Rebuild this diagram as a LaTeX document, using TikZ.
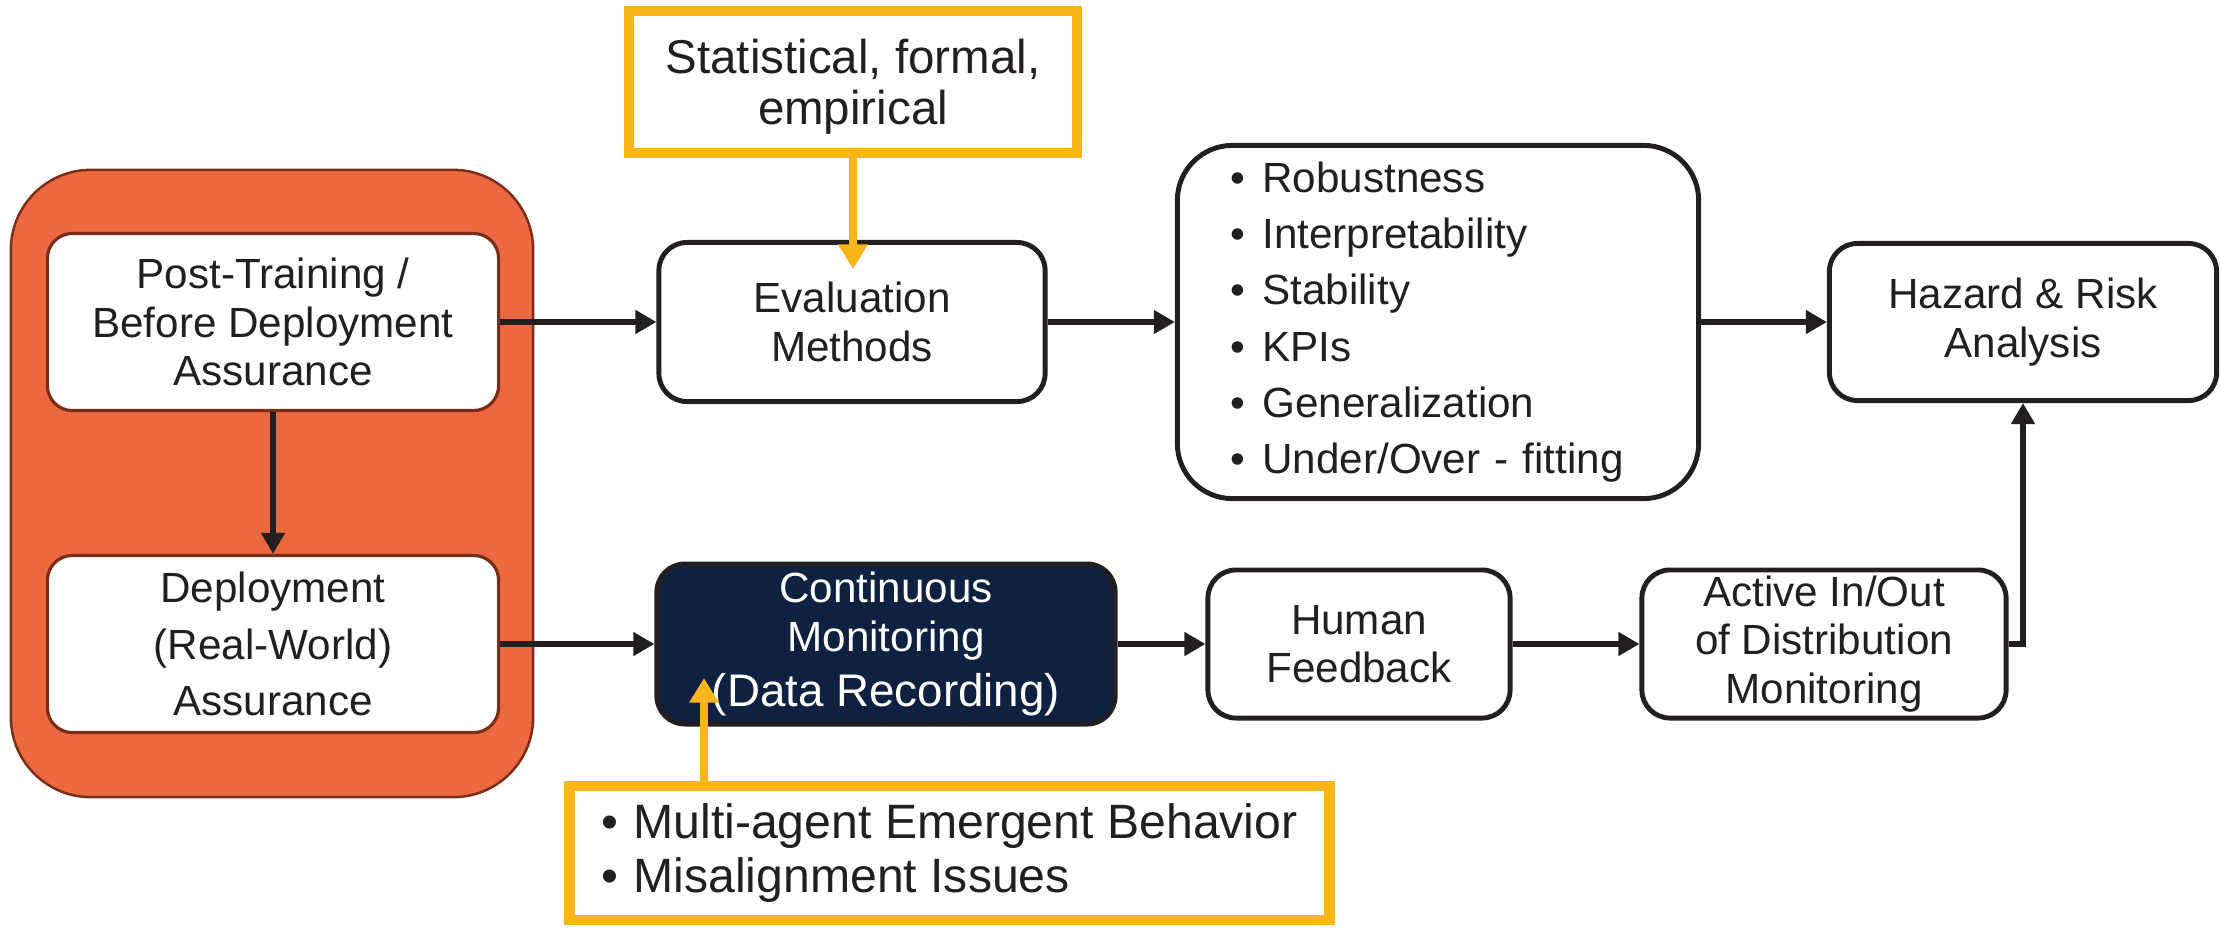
\documentclass[tikz,border=0pt]{standalone}
\usepackage{fontspec}
\setmainfont{Liberation Sans}
\usetikzlibrary{arrows.meta}
\usetikzlibrary{shadows}
\definecolor{stageorange}{HTML}{EC6841}
\definecolor{stageedge}{HTML}{7A2E17}
\definecolor{navy}{HTML}{0E2140}
\definecolor{noteyellow}{HTML}{FBB41A}
\definecolor{ink}{HTML}{231F20}
\tikzset{
  block/.style={draw=ink, line width=1.4pt, fill=white, rounded corners=#1, align=center,
    text=ink, inner sep=0pt, font=\fontsize{12}{13.8}\selectfont},
  block/.default=0.28cm,
  stagebox/.style={draw=stageedge, line width=0.7pt, fill=stageorange, rounded corners=0.8cm},
  stageitem/.style={block=0.25cm, draw=stageedge, line width=0.9pt},
  note/.style={draw=noteyellow, line width=3pt, fill=white, text=ink, inner sep=0pt,
    drop shadow={opacity=0.25, shadow xshift=1.5pt, shadow yshift=-1.5pt}},
  flow/.style={draw=ink, line width=1.6pt, -{Triangle[length=6pt,width=6.5pt]}},
  hint/.style={draw=noteyellow, line width=2.2pt, -{Triangle[length=7pt,width=8pt]}},
}
\newcommand\dotitem{\makebox[0.32cm][l]{\textbullet}}

\begin{document}
\begin{tikzpicture}[x=0.01cm, y=-0.01cm]
\useasboundingbox (0,0) rectangle (2221,927);

% lifecycle stages
\node[stagebox, minimum width=5.22cm, minimum height=6.27cm] (stages) at (272,483.5) {};
\node[stageitem, minimum width=4.51cm, minimum height=1.77cm] (post) at (273,322)
  {Post-Training /\\Before Deployment\\Assurance};
\node[stageitem, minimum width=4.51cm, minimum height=1.77cm,
  font=\fontsize{12}{16}\selectfont] (deploy) at (273,644)
  {Deployment\\(Real-World)\\Assurance};

% upper row
\node[block, minimum width=3.86cm, minimum height=1.59cm] (eval) at (852,322)
  {Evaluation\\Methods};
\node[block=0.55cm, minimum height=3.53cm, text width=4.15cm, inner xsep=0.53cm,
  align=left, font=\fontsize{12}{16}\selectfont] (metrics) at (1438,322)
  {\dotitem Robustness\\\dotitem Interpretability\\\dotitem Stability\\
   \dotitem KPIs\\\dotitem Generalization\\\dotitem Under/Over - fitting};
\node[block, minimum width=3.87cm, minimum height=1.57cm] (hazard) at (2023,322)
  {Hazard \& Risk\\Analysis};

% lower row
\node[block, fill=navy, draw=ink, text=white, minimum width=4.58cm, minimum height=1.6cm]
  (monitor) at (886,644)
  {Continuous\\Monitoring\\[2pt]{\fontsize{13}{14}\selectfont(Data Recording)}};
\node[block, minimum width=3.02cm, minimum height=1.48cm] (human) at (1359,644)
  {Human\\Feedback};
\node[block, minimum width=3.64cm, minimum height=1.48cm] (active) at (1824,644)
  {Active In/Out\\of Distribution\\Monitoring};

% notes
\node[note, minimum width=4.48cm, minimum height=1.42cm, align=center, text depth=0pt,
  font=\fontsize{13.5}{14.5}\selectfont] (methods) at (853,82)
  {Statistical, formal,\\empirical};
\node[note, minimum width=7.6cm, minimum height=1.34cm, align=left,
  font=\fontsize{13.7}{15.2}\selectfont] (issues) at (949.5,853)
  {\dotitem Multi-agent Emergent Behavior\\\dotitem Misalignment Issues};
\coordinate (evaltip) at (853,269);
\coordinate (monitortip) at (704,678);

\draw[flow] (post) -- (deploy);
\draw[flow] (post.east) -- (eval.west);
\draw[flow] (eval) -- (metrics);
\draw[flow] (metrics) -- (hazard);
\draw[flow] (deploy.east) -- (monitor.west);
\draw[flow] (monitor) -- (human);
\draw[flow] (human) -- (active);
\draw[flow] (active.east) -| (hazard.south);
\draw[hint] (methods.south) -- (evaltip);
\draw[hint] (issues.north -| monitortip) -- (monitortip);
\end{tikzpicture}
\end{document}
